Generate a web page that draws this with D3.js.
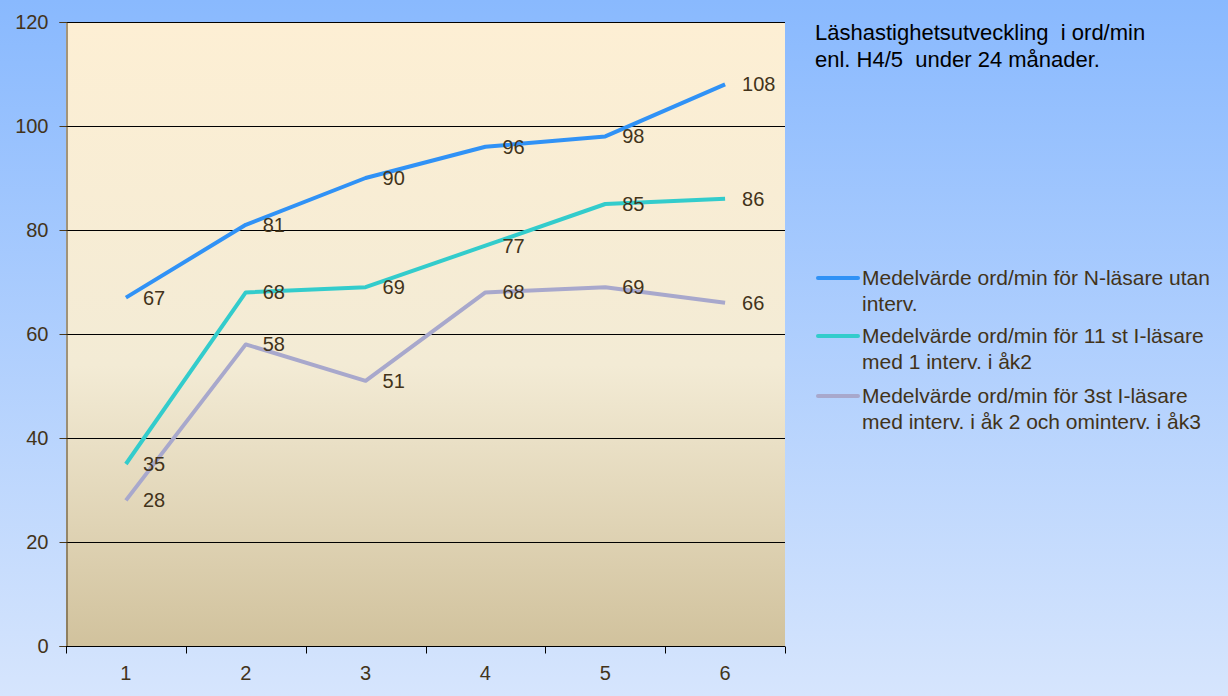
<!DOCTYPE html>
<html>
<head>
<meta charset="utf-8">
<script src="https://cdn.jsdelivr.net/npm/d3@7"></script>
<style>
  html, body { margin: 0; padding: 0; }
  svg { display: block; font-family: Arial, "Liberation Sans", sans-serif; }
</style>
</head>
<body>
<svg id="chart"></svg>
<script>
// Data
const categories = ['1', '2', '3', '4', '5', '6'];
const nLasare = [67, 81, 90, 96, 98, 108];
const elvaILasare = [35, 68, 69, 77, 85, 86];
const treILasare = [28, 58, 51, 68, 69, 66];
const seriesNames = [
    ['Medelvärde ord/min för N-läsare utan', 'interv.'],
    ['Medelvärde ord/min för 11 st I-läsare', 'med 1 interv. i åk2'],
    ['Medelvärde ord/min för 3st I-läsare', 'med interv. i åk 2 och ominterv. i åk3']
];
const yTicks = [0, 20, 40, 60, 80, 100, 120];
const titleLines = ['Läshastighetsutveckling  i ord/min', 'enl. H4/5  under 24 månader.'];

const width = 1228, height = 696;
const margin = { top: 22, left: 66, right: 443, bottom: 50 };
const textColor = '#42331a';
const colors = ['#3092f6', '#33cccc', '#a8a8cc'];

const series = [nLasare, elvaILasare, treILasare].map((values, i) => ({
    name: seriesNames[i],
    color: colors[i],
    values: values
}));

const svg = d3.select('#chart')
    .attr('width', width)
    .attr('height', height);

// Gradients
const defs = svg.append('defs');
const bgGrad = defs.append('linearGradient')
    .attr('id', 'bg').attr('x1', 0).attr('y1', 0).attr('x2', 0).attr('y2', 1);
bgGrad.append('stop').attr('offset', '0%').attr('stop-color', '#89b9fe');
bgGrad.append('stop').attr('offset', '100%').attr('stop-color', '#d6e5fd');

const plotGrad = defs.append('linearGradient')
    .attr('id', 'plotbg').attr('x1', 0).attr('y1', 0).attr('x2', 0).attr('y2', 1);
plotGrad.append('stop').attr('offset', '0%').attr('stop-color', '#fdefd4');
plotGrad.append('stop').attr('offset', '55%').attr('stop-color', '#f3ebd5');
plotGrad.append('stop').attr('offset', '100%').attr('stop-color', '#d1c29d');

svg.append('rect')
    .attr('width', width).attr('height', height)
    .attr('fill', 'url(#bg)');

const x = d3.scaleBand()
    .domain(categories)
    .range([margin.left, width - margin.right]);

const y = d3.scaleLinear()
    .domain([0, 120])
    .range([height - margin.bottom, margin.top]);

const plotW = x.range()[1] - x.range()[0];
const plotH = y(0) - y(120);

svg.append('rect')
    .attr('x', margin.left).attr('y', margin.top)
    .attr('width', plotW).attr('height', plotH)
    .attr('fill', 'url(#plotbg)');

// Gridlines
svg.append('g')
    .selectAll('line')
    .data(yTicks.filter(d => d > 0))
    .enter()
    .append('line')
    .attr('x1', margin.left)
    .attr('x2', margin.left + plotW)
    .attr('y1', d => Math.round(y(d)) + 0.5)
    .attr('y2', d => Math.round(y(d)) + 0.5)
    .attr('stroke', '#000')
    .attr('stroke-width', 1);

// Y axis
const yAxis = svg.append('g')
    .attr('transform', `translate(${margin.left + 0.5},0)`)
    .call(d3.axisLeft(y).tickValues(yTicks).tickSize(7).tickPadding(11));
yAxis.select('.domain').attr('stroke', '#4a3a1e');
yAxis.selectAll('.tick line').attr('stroke', '#4a3a1e');
yAxis.selectAll('.tick text')
    .attr('fill', textColor)
    .attr('font-size', '20px')
    .attr('font-family', 'Arial, "Liberation Sans", sans-serif');

// X axis (ticks between categories)
const xAxisG = svg.append('g')
    .attr('transform', `translate(0,${Math.round(y(0)) + 0.5})`);
xAxisG.append('line')
    .attr('x1', margin.left).attr('x2', margin.left + plotW)
    .attr('stroke', '#000');
const boundaries = categories.map(c => x(c)).concat([x.range()[1]]);
xAxisG.selectAll('.xtick')
    .data(boundaries)
    .enter()
    .append('line')
    .attr('x1', d => Math.round(d) + 0.5)
    .attr('x2', d => Math.round(d) + 0.5)
    .attr('y1', 0).attr('y2', 7)
    .attr('stroke', '#000');
xAxisG.selectAll('.xlabel')
    .data(categories)
    .enter()
    .append('text')
    .attr('x', d => x(d) + x.bandwidth() / 2)
    .attr('y', 33)
    .attr('text-anchor', 'middle')
    .attr('fill', textColor)
    .attr('font-size', '20px')
    .text(d => d);

// Lines
const line = d3.line()
    .x((d, i) => x(categories[i]) + x.bandwidth() / 2)
    .y(d => y(d));

svg.append('g')
    .selectAll('path')
    .data(series)
    .enter()
    .append('path')
    .attr('d', d => line(d.values))
    .attr('fill', 'none')
    .attr('stroke', d => d.color)
    .attr('stroke-width', 4)
    .attr('stroke-linejoin', 'round');

// Data labels
series.forEach(s => {
    svg.append('g')
        .selectAll('text')
        .data(s.values)
        .enter()
        .append('text')
        .attr('x', (d, i) => x(categories[i]) + x.bandwidth() / 2 + 17)
        .attr('y', d => y(d) + 7)
        .attr('fill', textColor)
        .attr('font-size', '20px')
        .text(d => d);
});

// Title
svg.append('text')
    .attr('x', 815)
    .attr('y', 40)
    .attr('fill', '#000')
    .attr('font-size', '22px')
    .attr('xml:space', 'preserve')
    .style('white-space', 'pre')
    .selectAll('tspan')
    .data(titleLines)
    .enter()
    .append('tspan')
    .attr('x', 815)
    .attr('dy', (d, i) => i === 0 ? 0 : 27)
    .text(d => d);

// Legend
const legendY = [278, 336, 396];
const legend = svg.append('g');
series.forEach((s, i) => {
    legend.append('line')
        .attr('x1', 818).attr('x2', 858)
        .attr('y1', legendY[i]).attr('y2', legendY[i])
        .attr('stroke', s.color)
        .attr('stroke-width', 4)
        .attr('stroke-linecap', 'round');
    legend.append('text')
        .attr('x', 862)
        .attr('y', legendY[i] + 7)
        .attr('fill', textColor)
        .attr('font-size', '21px')
        .selectAll('tspan')
        .data(s.name)
        .enter()
        .append('tspan')
        .attr('x', 862)
        .attr('dy', (d, j) => j === 0 ? 0 : 26)
        .text(d => d);
});
</script>
</body>
</html>
